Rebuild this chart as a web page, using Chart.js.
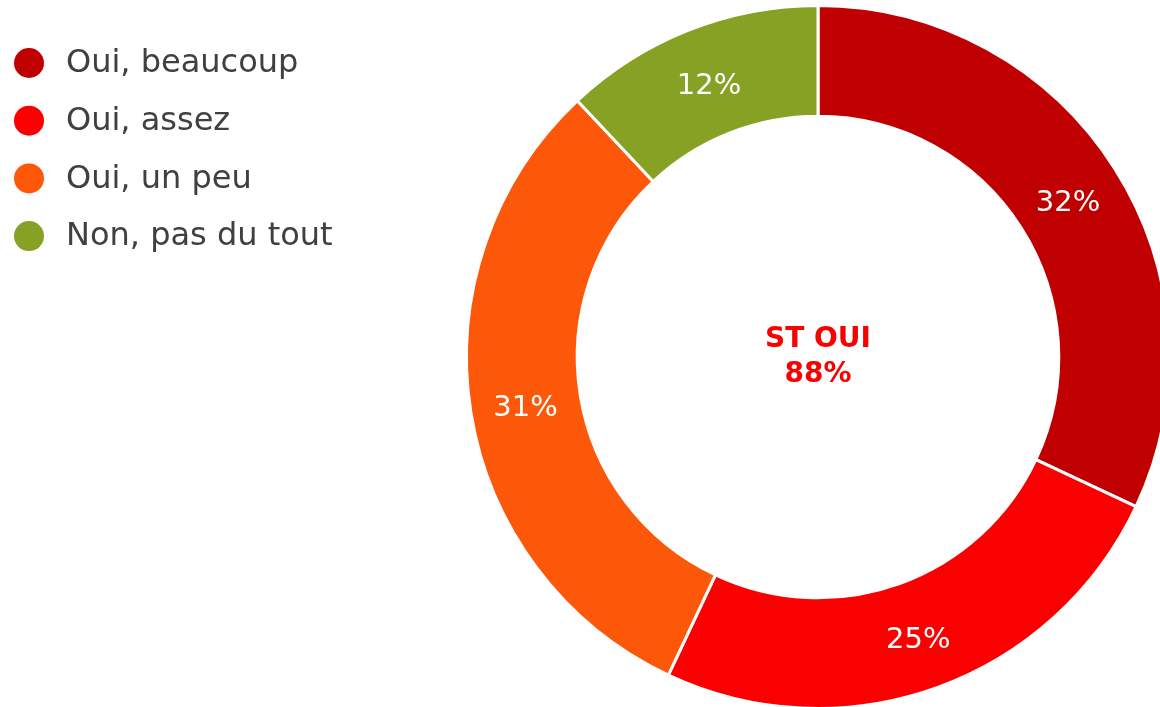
<!DOCTYPE html>
<html>
<head>
<meta charset="utf-8">
<script src="https://cdn.jsdelivr.net/npm/chart.js@4/dist/chart.umd.min.js"></script>
<style>
  html, body { margin: 0; padding: 0; background: #fff; overflow: hidden; }
  #wrap { position: absolute; left: 0; top: 0; width: 1200px; height: 720px; }
</style>
</head>
<body>
<div id="wrap"><canvas id="chart" width="1200" height="720"></canvas></div>
<script>
// data
const labels = ['Oui, beaucoup', 'Oui, assez', 'Oui, un peu', 'Non, pas du tout'];
const values = [32, 25, 31, 12];
const colors = ['#C00000', '#FA0000', '#FD5809', '#87A124'];
const centerLines = ['ST OUI', '88%'];

const FONT = '"DejaVu Sans", Verdana, sans-serif';

// left legend, drawn by hand so it doesn't steal chart space
const sideLegend = {
    id: 'sideLegend',
    afterDraw(chart) {
        const ctx = chart.ctx;
        ctx.save();
        ctx.font = '32px ' + FONT;
        ctx.textBaseline = 'middle';
        ctx.textAlign = 'left';
        labels.forEach((l, i) => {
            const y = 63 + i * 57.7;
            ctx.fillStyle = colors[i];
            ctx.beginPath();
            ctx.arc(29, y, 15, 0, Math.PI * 2);
            ctx.fill();
            ctx.fillStyle = '#404040';
            ctx.fillText(l, 66, y + 1);
        });
        ctx.restore();
    }
};

// percentages on the arcs + center text
const arcLabels = {
    id: 'arcLabels',
    afterDatasetsDraw(chart) {
        const ctx = chart.ctx;
        const meta = chart.getDatasetMeta(0);
        ctx.save();
        ctx.font = '29px ' + FONT;
        ctx.fillStyle = '#fff';
        ctx.textAlign = 'center';
        ctx.textBaseline = 'middle';
        meta.data.forEach((arc, i) => {
            const p = arc.tooltipPosition();
            ctx.fillText(values[i] + '%', p.x, p.y + 5);
        });
        const cx = (chart.chartArea.left + chart.chartArea.right) / 2;
        const cy = (chart.chartArea.top + chart.chartArea.bottom) / 2;
        ctx.font = 'bold 28px ' + FONT;
        ctx.fillStyle = '#FA0000';
        ctx.fillText(centerLines[0], cx, cy - 17);
        ctx.fillText(centerLines[1], cx, cy + 18);
        ctx.restore();
    }
};

new Chart(document.getElementById('chart'), {
    type: 'doughnut',
    data: {
        labels: labels,
        datasets: [{
            data: values,
            backgroundColor: colors,
            borderColor: '#fff',
            borderWidth: 3
        }]
    },
    options: {
        responsive: false,
        animation: false,
        cutout: '68.5%',
        layout: { padding: { left: 465, top: 4, right: 29, bottom: 10 } },
        plugins: {
            legend: { display: false },
            tooltip: { enabled: false }
        }
    },
    plugins: [sideLegend, arcLabels]
});
</script>
</body>
</html>
